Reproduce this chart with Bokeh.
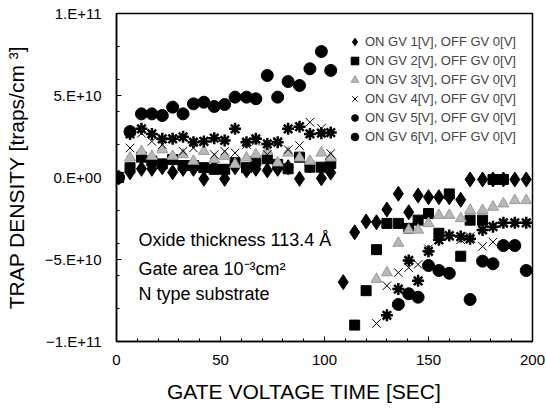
import numpy as np
from bokeh.plotting import figure
from bokeh.models import (ColumnDataSource, Range1d, FixedTicker, Legend, LegendItem, Label)
from bokeh.embed import file_html
from bokeh.resources import INLINE

nan = float("nan")

# time points [sec]
t_phase1 = [1, 6.5, 12, 17, 22, 27, 32, 37, 42, 47, 52, 57, 62.5, 67, 72.5, 77.5, 82.5, 88, 93, 98.5, 103]
t_phase2 = [109, 114.5, 120, 125, 130, 135.5, 140.5, 145, 150, 155, 160, 165.5, 170, 176, 181, 186, 191.5, 197]

# trap density in units of 1E9 traps/cm^3
gv1_p1 = [0, 3.2, 5.3, 5.3, 6.3, 3.2, 5.3, 5.3, -0.8, 6.3, -0.8, 6.3, 4.3, 5.3, 4.3, 5.3, 6.3, -0.8, 7.3, -0.5, 3]
gv1_p2 = [-63.8, -33.4, -26.8, -27.3, -19.5, -9.9, -21.2, -11, -12, -12, -12, -13.6, -1.2, -1.2, -1.2, -1.2, -1.2, -1.2]

gv2_p1 = [0, 6, 12.4, 10, 8.3, 11, 7.3, 7.3, 6, 5, 5, 9, 6, 10, 11.4, 8, 5.3, 12.4, 6.3, 6.3, 8.5]
gv2_p2 = [nan, -90, -69, -44, -28, -28, -31, -26, -22, -34, -10, -48, -26, -26, -1.2, -1.2, nan, nan]

gv3_p1 = [0, 12, 16, 13, 17, 13, 14, 10, 16, 11, 13, 8, 12, 14, 16, 9, 15, 12, 10, 15, 12]
gv3_p2 = [nan, nan, nan, -62, -58, -40, -32, -32, -28, -23, -23, -25, -20, -20, -18, -16, -14, -14]

gv4_p1 = [0, 18, 27, 22, 20, 24, 16, 18, 22, 14, 16, 15, 20, 22, 14, 22, 17, 19.5, 33.7, 30, 14.6]
gv4_p2 = [nan, nan, nan, -89, -66, -58, -55, -53, -43.5, -38, -36, -38, -36, -42, -39.4, -28, -28, -28]

gv5_p1 = [0, 26.6, 29.7, 26.6, 23.6, 23.6, 24.8, 21.5, 22, 24, 22.6, 29.7, 21.5, 23.6, 20.5, 21.5, 29.7, 31, 26.6, 27, 27.4]
gv5_p2 = [nan, nan, nan, nan, -84, -68, -50.6, -63, -45, -38, -35.4, -36, -37.4, -32, -30, -27.6, -27.6, -27.6]

gv6_p1 = [0, 28, 38.8, 38.8, 37.8, 42.9, 38.8, 44.9, 45.9, 43.3, 44.5, 49, 49, 48, 62.2, 49, 58.5, 56.1, 66.3, 76.8, 65.3]
gv6_p2 = [nan, nan, nan, nan, nan, -77.4, -70.9, -73, -53.7, -56.7, -58.4, nan, -74.4, -51, -52.6, -41.5, -41.5, -56.7]

labels = ["ON GV 1[V], OFF GV 0[V]", "ON GV 2[V], OFF GV 0[V]", "ON GV 3[V], OFF GV 0[V]",
          "ON GV 4[V], OFF GV 0[V]", "ON GV 5[V], OFF GV 0[V]", "ON GV 6[V], OFF GV 0[V]"]

y_ticks = [-100, -50, 0, 50, 100]
y_tick_labels = ["\u22121.E+11", "\u22125.E+10", "0.E+00", "5.E+10", "1.E+11"]
x_ticks = [0, 50, 100, 150, 200]

FONT = "Liberation Sans"

p = figure(width=546, height=416, output_backend="svg", toolbar_location=None,
           x_range=Range1d(0, 200), y_range=Range1d(-100, 100),
           min_border_left=116, min_border_right=14, min_border_top=13, min_border_bottom=75)
p.xgrid.visible = False
p.ygrid.visible = False
p.outline_line_color = "black"
p.outline_line_width = 1.5
p.background_fill_color = "white"
p.border_fill_color = "white"

p.xaxis.ticker = FixedTicker(ticks=x_ticks, minor_ticks=list(range(0, 201, 10)))
p.yaxis.ticker = FixedTicker(ticks=y_ticks, minor_ticks=list(range(-100, 101, 20)))
p.yaxis.major_label_overrides = {k: v for k, v in zip(y_ticks, y_tick_labels)}

for ax in (p.xaxis[0], p.yaxis[0]):
    ax.axis_line_color = "black"
    ax.axis_line_width = 1.5
    ax.major_tick_in = 5
    ax.major_tick_out = 0
    ax.minor_tick_in = 3
    ax.minor_tick_out = 0
    ax.major_tick_line_color = "black"
    ax.minor_tick_line_color = "black"
    ax.major_label_text_font = FONT
    ax.major_label_text_font_size = "15px"
    ax.major_label_text_color = "black"
    ax.axis_label_text_font = FONT
    ax.axis_label_text_font_size = "21px"
    ax.axis_label_text_font_style = "normal"
    ax.axis_label_text_color = "black"

# trailing no-break spaces shift the centred label a little to the left, as in the original
p.xaxis.axis_label = "GATE VOLTAGE TIME [SEC]" + "\u00a0" * 7
p.yaxis.axis_label = "TRAP DENSITY [traps/cm \u00b3]"
p.xaxis.major_label_standoff = 13
p.xaxis.axis_label_standoff = 12
p.yaxis.major_label_standoff = 15
p.yaxis.axis_label_standoff = 14

t_all = np.array(t_phase1 + t_phase2, dtype=float)
series = [
    (gv1_p1 + gv1_p2, dict(marker="diamond", size=15, fill_color="black", line_color="black")),
    (gv2_p1 + gv2_p2, dict(marker="square", size=10, fill_color="black", line_color="black")),
    (gv3_p1 + gv3_p2, dict(marker="triangle", size=11, fill_color="#b8b8b8", line_color="#9a9a9a")),
    (gv4_p1 + gv4_p2, dict(marker="x", size=12, line_color="black", line_width=1)),
    (gv5_p1 + gv5_p2, dict(marker="asterisk", size=12, line_color="black", line_width=2.5)),
    (gv6_p1 + gv6_p2, dict(marker="circle", size=12, fill_color="black", line_color="black")),
]

items = []
for (vals, style), lab in zip(series, labels):
    src = ColumnDataSource(dict(t=t_all, v=np.array(vals, dtype=float)))
    r = p.scatter("t", "v", source=src, **style)
    items.append(LegendItem(label=lab, renderers=[r]))

legend = Legend(items=items, location=(229, 195))
legend.border_line_color = None
legend.background_fill_alpha = 0
legend.label_text_font = FONT
legend.label_text_font_size = "13px"
legend.glyph_width = 19
legend.glyph_height = 19
legend.label_height = 19
legend.spacing = 0
legend.padding = 0
legend.margin = 0
legend.label_standoff = 1
p.add_layout(legend)

notes = ["Oxide thickness 113.4 \u00c5", "Gate area 10\u207b\u00b3cm\u00b2", "N type substrate"]
for txt, yy in zip(notes, [-38.4, -55.5, -71.3]):
    p.add_layout(Label(x=10.6, y=yy, text=txt, text_font=FONT, text_font_size="18px",
                       text_baseline="middle", text_color="black"))

open("out.html", "w").write(file_html(p, INLINE))
